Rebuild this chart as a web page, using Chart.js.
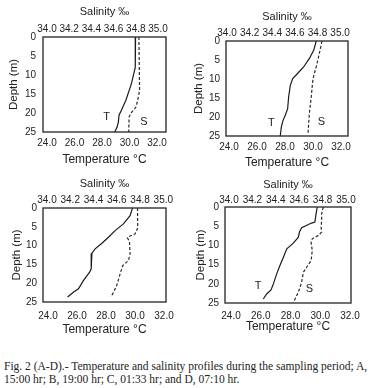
<!DOCTYPE html>
<html><head><meta charset="utf-8">
<script src="https://cdn.jsdelivr.net/npm/chart.js@4.4.0/dist/chart.umd.min.js"></script>
<style>
html,body{margin:0;padding:0;background:#fff;}
body{width:368px;height:388px;position:relative;overflow:hidden;}
.p{position:absolute;width:184px;height:170px;}
#caption{position:absolute;left:4px;top:360px;width:364px;font-family:"Liberation Serif","Times New Roman",serif;font-size:11.5px;line-height:12.5px;color:#222;white-space:nowrap;}
</style></head><body>
<div class="p" style="left:0;top:0"><canvas id="cA" width="184" height="170"></canvas></div>
<div class="p" style="left:184px;top:0"><canvas id="cB" width="184" height="170"></canvas></div>
<div class="p" style="left:0;top:170px"><canvas id="cC" width="184" height="170"></canvas></div>
<div class="p" style="left:184px;top:170px"><canvas id="cD" width="184" height="170"></canvas></div>
<div id="caption">Fig. 2 (A-D).- Temperature and salinity profiles during the sampling period; A,<br>15:00 hr; B, 19:00 hr; C, 01:33 hr; and D, 07:10 hr.</div>
<script>
// ---- tick labels ----
const depthTicks = [0, 5, 10, 15, 20, 25];
const tempTicks = [24, 26, 28, 30, 32];
const salTicks = [34.0, 34.2, 34.4, 34.6, 34.8, 35.0];

// ---- Panel A (15:00 hr) ----
const aTempDepth = [0, 8, 12.4, 16.7, 19.3, 20.6, 22.4, 23.7, 25];
const aTemp = [30.44, 30.42, 30.13, 29.73, 29.41, 29.24, 29.19, 29.10, 28.93];
const aSalDepth = [0, 14, 16.7, 18.5, 19.8, 21, 25];
const aSal = [34.828, 34.834, 34.817, 34.80, 34.762, 34.740, 34.736];

// ---- Panel B (19:00 hr) ----
const bTempDepth = [0, 2.46, 4.65, 6.84, 8.42, 9.91, 11.67, 14.74, 17.8, 19.56, 20.88, 22.6, 25];
const bTemp = [30.23, 30.05, 29.73, 29.33, 28.93, 28.55, 28.38, 28.26, 28.19, 28.02, 27.86, 27.74, 27.66];
const bSalDepth = [0, 3.33, 6.84, 9.04, 10.8, 14.7, 19.1, 24.4];
const bSal = [34.840, 34.816, 34.789, 34.767, 34.757, 34.745, 34.728, 34.716];

// ---- Panel C (01:33 hr) ----
const cTempDepth = [0, 2.03, 4.24, 6.01, 7.77, 9.36, 10.87, 12.01, 16.17, 17.05, 19.26, 21.47, 22.35, 23.67];
const cTemp = [29.83, 29.66, 29.20, 28.63, 28.17, 27.72, 27.25, 27.03, 26.98, 26.87, 26.45, 26.10, 25.77, 25.35];
const cSalDepth = [0, 5.3, 6.89, 7.51, 7.95, 8.83, 12.19, 13.96, 15.28, 17.49, 20.58, 22.79, 23.67];
const cSal = [34.778, 34.780, 34.758, 34.709, 34.691, 34.709, 34.714, 34.701, 34.652, 34.629, 34.600, 34.566, 34.548];

// ---- Panel D (07:10 hr) ----
const dTempDepth = [0, 1.74, 3.92, 4.18, 5.40, 6.53, 7.84, 9.41, 10.89, 13.07, 15.24, 17.42, 20.03, 21.6, 22.65, 23.95];
const dTemp = [29.80, 29.72, 29.64, 29.42, 28.75, 28.60, 28.53, 28.19, 27.75, 27.52, 27.29, 27.07, 26.85, 26.69, 26.40, 26.17];
const dSalDepth = [0, 1.74, 3.66, 5.23, 6.53, 7.40, 8.28, 9.15, 11.32, 13.94, 15.68, 16.99, 19.6, 22.21, 23.95, 25];
const dSal = [34.806, 34.792, 34.792, 34.787, 34.792, 34.764, 34.712, 34.702, 34.712, 34.702, 34.664, 34.636, 34.621, 34.593, 34.565, 34.550];

Chart.defaults.font.family = "'Liberation Sans', Arial, sans-serif";
Chart.defaults.color = '#222';
Chart.defaults.animation = false;

function pts(depths, vals) { return depths.map((d, i) => ({ x: vals[i], y: d })); }

const boxPlugin = {
  id: 'box',
  afterDatasetsDraw(chart) {
    const { ctx, chartArea: a } = chart;
    ctx.save();
    ctx.strokeStyle = '#333';
    ctx.lineWidth = 1.4;
    ctx.strokeRect(a.left, a.top, a.right - a.left, a.bottom - a.top);
    ctx.restore();
  }
};
const tsPlugin = {
  id: 'tsLabels',
  afterDatasetsDraw(chart, args, opts) {
    const items = opts.items || [];
    const ctx = chart.ctx;
    ctx.save();
    ctx.font = "11px 'Liberation Sans', Arial, sans-serif";
    ctx.fillStyle = '#222';
    ctx.textAlign = 'center';
    ctx.textBaseline = 'middle';
    items.forEach(it => {
      ctx.fillText(it.text, chart.scales[it.axis].getPixelForValue(it.x), chart.scales.y.getPixelForValue(it.y));
    });
    ctx.restore();
  }
};

function makePanel(id, tDepth, tVals, sDepth, sVals, tRange, sRange, labels, L) {
  new Chart(document.getElementById(id), {
    type: 'line',
    data: {
      datasets: [
        { label: 'T', data: pts(tDepth, tVals), xAxisID: 'x', yAxisID: 'y', borderColor: '#1a1a1a', borderWidth: 1.2, pointRadius: 0, fill: false, tension: 0 },
        { label: 'S', data: pts(sDepth, sVals), xAxisID: 'x2', yAxisID: 'y', borderColor: '#2a2a2a', borderWidth: 1.2, borderDash: [3, 2], pointRadius: 0, fill: false, tension: 0 }
      ]
    },
    options: {
      responsive: false,
      animation: false,
      layout: { padding: { left: 0, top: 0, right: L.right, bottom: 0 } },
      plugins: { legend: { display: false }, tooltip: { enabled: false }, tsLabels: { items: labels } },
      scales: {
        x: {
          type: 'linear', position: 'bottom', min: tRange[0], max: tRange[1],
          afterBuildTicks: s => { s.ticks = tempTicks.map(v => ({ value: v })); },
          afterFit: s => { s.height = L.bottomH; },
          grid: { display: false, drawTicks: false }, border: { display: false },
          ticks: { padding: L.bPad, autoSkip: false, maxRotation: 0, font: { size: 10 }, callback: v => Number(v).toFixed(1) },
          title: { display: true, text: 'Temperature °C', font: { size: 12 }, padding: { top: 0, bottom: L.bTitle } }
        },
        x2: {
          type: 'linear', position: 'top', min: sRange[0], max: sRange[1],
          afterBuildTicks: s => { s.ticks = salTicks.map(v => ({ value: v })); },
          afterFit: s => { s.height = L.topH; },
          grid: { display: false, drawTicks: false }, border: { display: false },
          ticks: { padding: L.tPad, autoSkip: false, maxRotation: 0, font: { size: 10 }, callback: v => Number(v).toFixed(1) },
          title: { display: true, text: 'Salinity ‰', font: { size: 11 }, padding: { top: L.tTitle, bottom: 0 } }
        },
        y: {
          type: 'linear', position: 'left', reverse: true, min: 0, max: 25,
          afterBuildTicks: s => { s.ticks = depthTicks.map(v => ({ value: v })); },
          afterFit: s => { s.width = L.leftW; },
          grid: { display: false, drawTicks: false }, border: { display: false },
          ticks: { padding: L.lPad, autoSkip: false, font: { size: 10 } },
          title: { display: true, text: 'Depth (m)', font: { size: 11.5 }, padding: { top: L.lTitle, bottom: 0 } }
        }
      }
    },
    plugins: [boxPlugin, tsPlugin]
  });
}

makePanel('cA', aTempDepth, aTemp, aSalDepth, aSal, [23.709, 32.655], [33.964, 35.072],
  [{ text: 'T', axis: 'x', x: 28.34, y: 21.1 }, { text: 'S', axis: 'x2', x: 34.874, y: 22.4 }],
  { leftW: 43, topH: 37, bottomH: 38, right: 18, tPad: 2, bPad: 5, lPad: 7, tTitle: 5, bTitle: 3, lTitle: 7 });
makePanel('cB', bTempDepth, bTemp, bSalDepth, bSal, [23.786, 32.5], [33.991, 35.070],
  [{ text: 'T', axis: 'x', x: 27.02, y: 21.6 }, { text: 'S', axis: 'x2', x: 34.834, y: 21.3 }],
  { leftW: 42, topH: 41, bottomH: 34, right: 20, tPad: 2, bPad: 5, lPad: 6, tTitle: 10, bTitle: 0, lTitle: 8 });
makePanel('cC', cTempDepth, cTemp, cSalDepth, cSal, [23.655, 32.138], [33.966, 35.023],
  [],
  { leftW: 43, topH: 38, bottomH: 38, right: 18, tPad: 2, bPad: 8, lPad: 6, tTitle: 7, bTitle: 3, lTitle: 10 });
makePanel('cD', dTempDepth, dTemp, dSalDepth, dSal, [23.597, 32.067], [33.966, 35.043],
  [{ text: 'T', axis: 'x', x: 25.82, y: 20.6 }, { text: 'S', axis: 'x2', x: 34.687, y: 21.4 }],
  { leftW: 41, topH: 37, bottomH: 37, right: 17, tPad: 1, bPad: 7, lPad: 6, tTitle: 8, bTitle: 6, lTitle: 10 });
</script>
</body></html>
